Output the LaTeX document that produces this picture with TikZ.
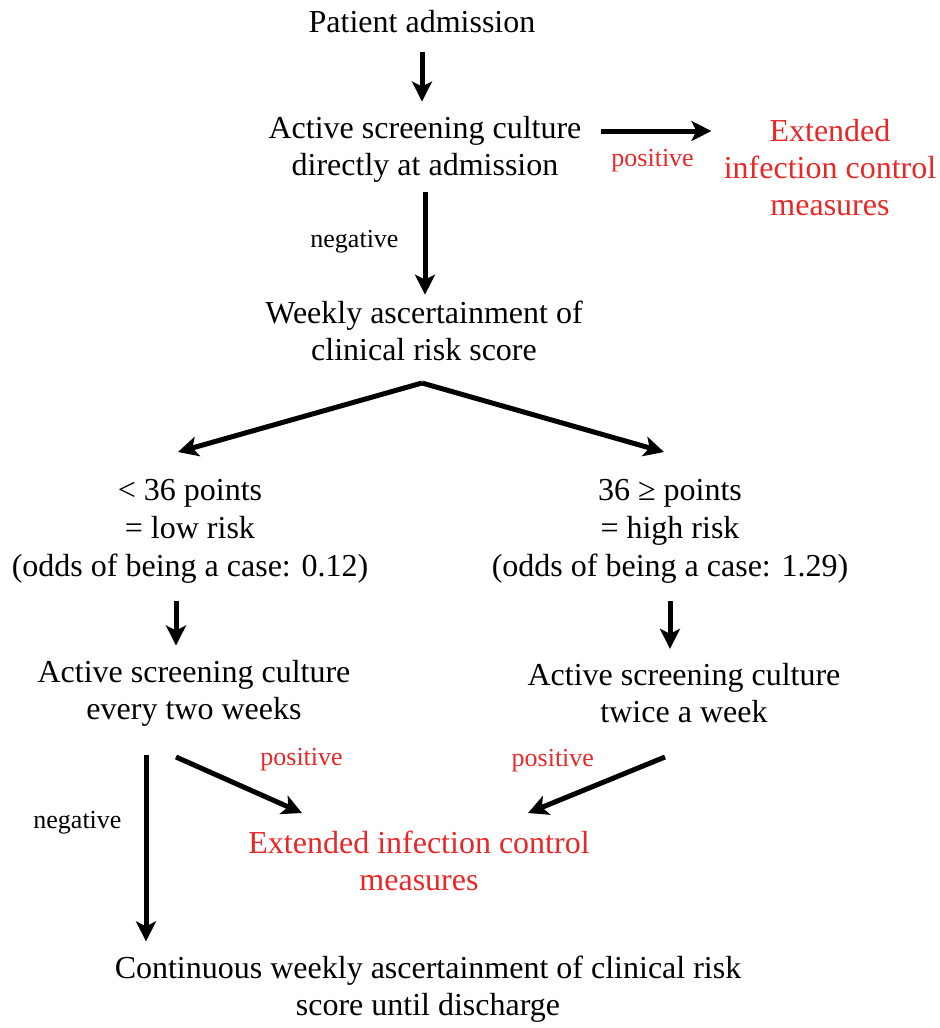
\documentclass[tikz,border=0pt]{standalone}
\usepackage{fontspec}
\setmainfont{Liberation Serif}
\usetikzlibrary{arrows.meta}
\definecolor{alertred}{RGB}{232,40,40}

\begin{document}
\begin{tikzpicture}[x=0.5pt,y=-0.5pt]
      \useasboundingbox (0,0) rectangle (939,1028);

      \begin{scope}[every node/.style={align=center,inner sep=0pt,font=\fontsize{16}{18.5}\selectfont}]
        \node (admit)   at (422,22)  {Patient admission};
        \node (screen1) at (425,149) {Active screening culture\\directly at admission};
        \node[text=alertred] (ext1) at (830,168) {Extended\\infection control\\measures};
        \node (risk)    at (424,331) {Weekly ascertainment of\\clinical risk score};
        \node[font=\fontsize{16}{19}\selectfont] (low)  at (190,531) {< 36 points\\= low risk\\(odds of being a case: 0.12)};
        \node[font=\fontsize{16}{19}\selectfont] (high) at (670,531) {36 ≥ points\\= high risk\\(odds of being a case: 1.29)};
        \node (screen2) at (194,693) {Active screening culture\\every two weeks};
        \node (screen3) at (684,693) {Active screening culture\\twice a week};
        \node[text=alertred] (ext2) at (419,861) {Extended infection control\\measures};
        \node (final)   at (428,989) {Continuous weekly ascertainment of clinical risk\\score until discharge};
      \end{scope}

      % free ends of the slanted arrows
      \coordinate (split)   at (422,383);
      \coordinate (lowtip)  at (178,452);
      \coordinate (hightip) at (664,452);
      \coordinate (lowout)  at (176,757);
      \coordinate (highout) at (665,757);
      \coordinate (ltip)    at (302,813);
      \coordinate (rtip)    at (528,813);

      \begin{scope}[every node/.style={inner sep=0pt,font=\fontsize{13}{15}\selectfont}]
        \begin{scope}[every edge/.style={draw,line width=2.5pt,-{Stealth[length=10pt,width=10pt,inset=2.5pt]}}]
          \path (admit.south) edge[shorten <=9pt,shorten >=7pt] (admit.south |- screen1.north);
          \path ([yshift=9pt]screen1.east) edge[shorten <=9.5pt,shorten >=6pt]
                node[below=8pt,text=alertred] {positive} ([yshift=9pt]screen1.east -| ext1.west);
          \path (screen1.south) edge[shorten <=5pt,shorten >=3pt]
                node[left=12pt] {negative} (screen1.south |- risk.north);
          \path (split) edge (lowtip);
          \path (split) edge (hightip);
          \path ([xshift=-7pt]low.south) edge[shorten <=9pt,shorten >=7pt] ([xshift=-7pt]low.south |- screen2.north);
          \path (high.south) edge[shorten <=9pt,shorten >=7pt] (high.south |- screen3.north);
          \path (lowout) edge node[pos=0.65,anchor=south west,yshift=10pt,text=alertred] {positive} (ltip);
          \path (highout) edge node[pos=0.5,anchor=south east,yshift=5pt,text=alertred] {positive} (rtip);
          \path ([xshift=-24pt]screen2.south) edge[shorten <=14.5pt,shorten >=7pt]
                node[pos=0.42,left=11pt] {negative} ([xshift=-24pt]screen2.south |- final.north);
        \end{scope}
      \end{scope}

\end{tikzpicture}
\end{document}
